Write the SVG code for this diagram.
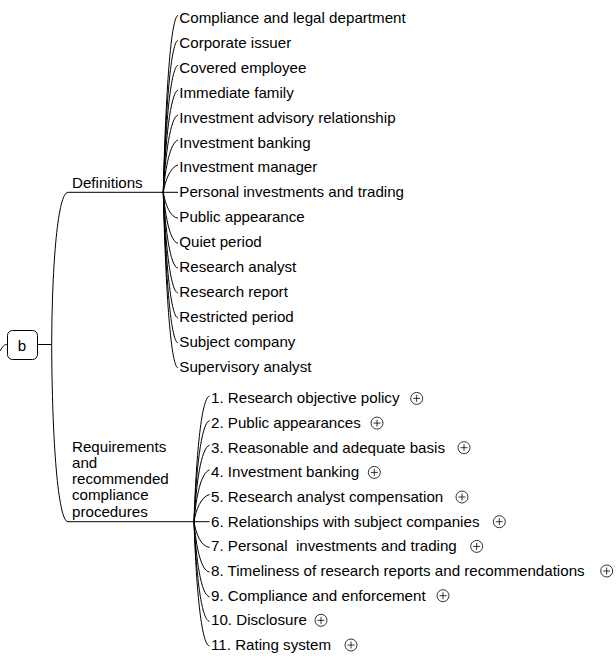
<svg xmlns="http://www.w3.org/2000/svg" width="616" height="658" viewBox="0 0 616 658">
  <defs>
    <style>
      .txt { font-family: "Liberation Sans", Arial, sans-serif; font-size: 15.15px; fill: #000; }
      .link { fill: none; stroke: #000; stroke-width: 1; }
      .rule { fill: none; stroke: #000; stroke-width: 1; }
      .box { fill: #fff; stroke: #000; stroke-width: 1; }
      .exp circle { fill: #fff; stroke: #000; stroke-width: 0.8; }
      .exp path { fill: none; stroke: #000; stroke-width: 0.8; }
    </style>
    <!-- collapsed-branch marker: circle with a plus -->
    <g id="plus" class="exp">
      <circle cx="0" cy="0" r="6"/>
      <path d="M-3.5,0 H3.5 M0,-3.5 V3.5"/>
    </g>
  </defs>

  <rect width="616" height="658" fill="#fff"/>

  <!-- connectors -->
  <g id="connectors">
    <path class="link" d="M0,351 C3,346 4,344.5 7.5,344.5"/>
    <path class="link" d="M37.5,344.5 H51.7"/>
    <path class="link" d="M51.7,344.5 C52,262 58,192.3 68,192.3"/>
    <path class="link" d="M51.7,344.5 C52,440 58,521.7 68,521.7"/>

    <!-- Definitions branches -->
    <path class="link" d="M163.3,192.3 C165.3,105.1 170.3,17.8 178,15.3"/>
    <path class="link" d="M163.3,192.3 C165.3,117.5 170.3,42.7 178,40.2"/>
    <path class="link" d="M163.3,192.3 C165.3,130.0 170.3,67.7 178,65.2"/>
    <path class="link" d="M163.3,192.3 C165.3,142.5 170.3,92.6 178,90.1"/>
    <path class="link" d="M163.3,192.3 C165.3,154.9 170.3,117.5 178,115.0"/>
    <path class="link" d="M163.3,192.3 C165.3,167.4 170.3,142.5 178,140.0"/>
    <path class="link" d="M163.3,192.3 C165.3,179.9 170.3,167.4 178,164.9"/>
    <path class="link" d="M163.3,192.3 H178"/>
    <path class="link" d="M163.3,192.3 C165.3,204.8 170.3,217.2 178,218.2"/>
    <path class="link" d="M163.3,192.3 C165.3,217.3 170.3,242.2 178,243.2"/>
    <path class="link" d="M163.3,192.3 C165.3,229.7 170.3,267.1 178,268.1"/>
    <path class="link" d="M163.3,192.3 C165.3,242.2 170.3,292.0 178,293.0"/>
    <path class="link" d="M163.3,192.3 C165.3,254.7 170.3,317.0 178,318.0"/>
    <path class="link" d="M163.3,192.3 C165.3,267.1 170.3,341.9 178,342.9"/>
    <path class="link" d="M163.3,192.3 C165.3,279.6 170.3,366.8 178,367.8"/>

    <!-- Requirements branches -->
    <path class="link" d="M194,521.7 C196,460.1 201,398.4 209.5,395.9"/>
    <path class="link" d="M194,521.7 C196,472.4 201,423.1 209.5,420.6"/>
    <path class="link" d="M194,521.7 C196,484.7 201,447.7 209.5,445.2"/>
    <path class="link" d="M194,521.7 C196,497.0 201,472.4 209.5,469.9"/>
    <path class="link" d="M194,521.7 C196,509.4 201,497.0 209.5,494.5"/>
    <path class="link" d="M194,521.7 H209.5"/>
    <path class="link" d="M194,521.7 C196,534.0 201,546.4 209.5,547.4"/>
    <path class="link" d="M194,521.7 C196,546.4 201,571.0 209.5,572.0"/>
    <path class="link" d="M194,521.7 C196,558.7 201,595.7 209.5,596.7"/>
    <path class="link" d="M194,521.7 C196,571.0 201,620.3 209.5,621.3"/>
    <path class="link" d="M194,521.7 C196,583.4 201,645 209.5,646"/>
  </g>

  <!-- root -->
  <g id="node-root">
    <rect class="box" x="7.5" y="330.5" width="30" height="29" rx="5"/>
    <text class="txt" x="22" y="350.5" text-anchor="middle">b</text>
  </g>

  <!-- main topics -->
  <g id="node-definitions">
    <text class="txt" x="72" y="188">Definitions</text>
    <path class="rule" d="M68,192.3 H163.3"/>
  </g>
  <g id="node-requirements">
    <text class="txt" x="72" y="451.5">Requirements</text>
    <text class="txt" x="72" y="467.8">and</text>
    <text class="txt" x="72" y="484.1">recommended</text>
    <text class="txt" x="72" y="500.4">compliance</text>
    <text class="txt" x="72" y="516.7">procedures</text>
    <path class="rule" d="M68,521.7 H194"/>
  </g>

  <!-- definitions -->
  <g id="node-d01"><text class="txt" x="179.3" y="22.8">Compliance and legal department</text></g>
  <g id="node-d02"><text class="txt" x="179.3" y="47.7">Corporate issuer</text></g>
  <g id="node-d03"><text class="txt" x="179.3" y="72.7">Covered employee</text></g>
  <g id="node-d04"><text class="txt" x="179.3" y="97.6">Immediate family</text></g>
  <g id="node-d05"><text class="txt" x="179.3" y="122.5">Investment advisory relationship</text></g>
  <g id="node-d06"><text class="txt" x="179.3" y="147.5">Investment banking</text></g>
  <g id="node-d07"><text class="txt" x="179.3" y="172.4">Investment manager</text></g>
  <g id="node-d08"><text class="txt" x="179.3" y="197.3">Personal investments and trading</text></g>
  <g id="node-d09"><text class="txt" x="179.3" y="222.2">Public appearance</text></g>
  <g id="node-d10"><text class="txt" x="179.3" y="247.2">Quiet period</text></g>
  <g id="node-d11"><text class="txt" x="179.3" y="272.1">Research analyst</text></g>
  <g id="node-d12"><text class="txt" x="179.3" y="297">Research report</text></g>
  <g id="node-d13"><text class="txt" x="179.3" y="322">Restricted period</text></g>
  <g id="node-d14"><text class="txt" x="179.3" y="346.9">Subject company</text></g>
  <g id="node-d15"><text class="txt" x="179.3" y="371.8">Supervisory analyst</text></g>

  <!-- requirements -->
  <g id="node-r01"><text class="txt" x="211" y="403.4">1. Research objective policy</text><use href="#plus" x="416.7" y="398.4"/></g>
  <g id="node-r02"><text class="txt" x="211" y="428.1">2. Public appearances</text><use href="#plus" x="377" y="423.1"/></g>
  <g id="node-r03"><text class="txt" x="211" y="452.7">3. Reasonable and adequate basis</text><use href="#plus" x="464" y="447.7"/></g>
  <g id="node-r04"><text class="txt" x="211" y="477.4">4. Investment banking</text><use href="#plus" x="374.3" y="472.4"/></g>
  <g id="node-r05"><text class="txt" x="211" y="502">5. Research analyst compensation</text><use href="#plus" x="462" y="497"/></g>
  <g id="node-r06"><text class="txt" x="211" y="526.7">6. Relationships with subject companies</text><use href="#plus" x="499.3" y="521.7"/></g>
  <g id="node-r07"><text class="txt" x="211" y="551.4" xml:space="preserve">7. Personal  investments and trading</text><use href="#plus" x="476.7" y="546.4"/></g>
  <g id="node-r08"><text class="txt" x="211" y="576">8. Timeliness of research reports and recommendations</text><use href="#plus" x="606.7" y="571"/></g>
  <g id="node-r09"><text class="txt" x="211" y="600.7">9. Compliance and enforcement</text><use href="#plus" x="443" y="595.7"/></g>
  <g id="node-r10"><text class="txt" x="211" y="625.3">10. Disclosure</text><use href="#plus" x="321" y="620.3"/></g>
  <g id="node-r11"><text class="txt" x="211" y="650">11. Rating system</text><use href="#plus" x="351" y="645"/></g>
</svg>
